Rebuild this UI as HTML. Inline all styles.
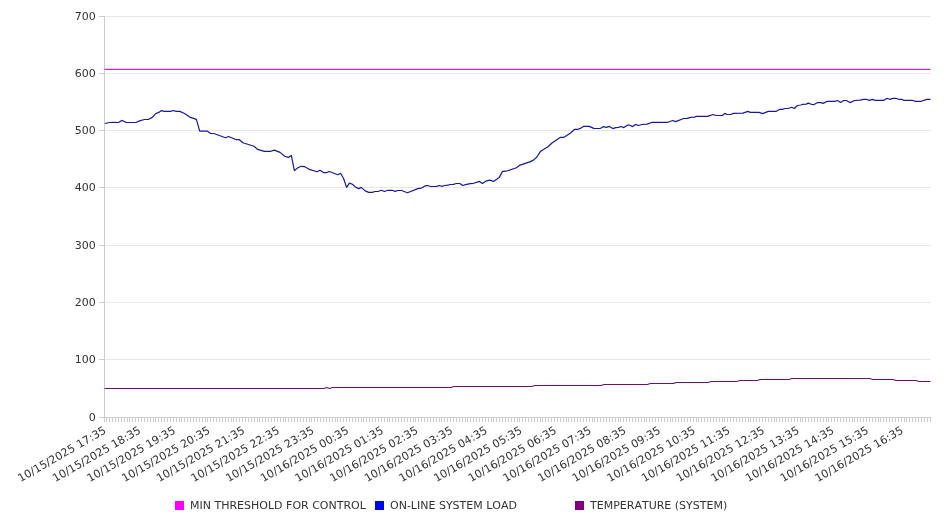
<!DOCTYPE html>
<html lang="en"><head><meta charset="utf-8"><title>System Load Chart</title>
<style>html,body{margin:0;padding:0;background:#fff;overflow:hidden}svg{display:block;will-change:transform}text{font-family:'DejaVu Sans', 'Liberation Sans', sans-serif;fill:#333;font-kerning:none}</style></head><body>
<svg width="946" height="526" viewBox="0 0 946 526">
<path d="M104.0 417.5H931.0M104.0 359.5H931.0M104.0 302.5H931.0M104.0 245.5H931.0M104.0 187.5H931.0M104.0 130.5H931.0M104.0 73.5H931.0M104.0 16.5H931.0" stroke="#e8e8e8" stroke-width="1" fill="none"/>
<path d="M104.5 16.0V418.0M104.0 417.5H931.0M99.0 417.5H104.0M99.0 359.5H104.0M99.0 302.5H104.0M99.0 245.5H104.0M99.0 187.5H104.0M99.0 130.5H104.0M99.0 73.5H104.0M99.0 16.5H104.0M104.5 418.0V422.0M106.5 418.0V422.0M109.5 418.0V422.0M112.5 418.0V422.0M115.5 418.0V422.0M118.5 418.0V422.0M121.5 418.0V422.0M124.5 418.0V422.0M127.5 418.0V422.0M129.5 418.0V422.0M132.5 418.0V422.0M135.5 418.0V422.0M138.5 418.0V422.0M141.5 418.0V422.0M144.5 418.0V422.0M147.5 418.0V422.0M150.5 418.0V422.0M153.5 418.0V422.0M155.5 418.0V422.0M158.5 418.0V422.0M161.5 418.0V422.0M164.5 418.0V422.0M167.5 418.0V422.0M170.5 418.0V422.0M173.5 418.0V422.0M176.5 418.0V422.0M179.5 418.0V422.0M181.5 418.0V422.0M184.5 418.0V422.0M187.5 418.0V422.0M190.5 418.0V422.0M193.5 418.0V422.0M196.5 418.0V422.0M199.5 418.0V422.0M202.5 418.0V422.0M205.5 418.0V422.0M207.5 418.0V422.0M210.5 418.0V422.0M213.5 418.0V422.0M216.5 418.0V422.0M219.5 418.0V422.0M222.5 418.0V422.0M225.5 418.0V422.0M228.5 418.0V422.0M231.5 418.0V422.0M233.5 418.0V422.0M236.5 418.0V422.0M239.5 418.0V422.0M242.5 418.0V422.0M245.5 418.0V422.0M248.5 418.0V422.0M251.5 418.0V422.0M254.5 418.0V422.0M257.5 418.0V422.0M259.5 418.0V422.0M262.5 418.0V422.0M265.5 418.0V422.0M268.5 418.0V422.0M271.5 418.0V422.0M274.5 418.0V422.0M277.5 418.0V422.0M280.5 418.0V422.0M283.5 418.0V422.0M285.5 418.0V422.0M288.5 418.0V422.0M291.5 418.0V422.0M294.5 418.0V422.0M297.5 418.0V422.0M300.5 418.0V422.0M303.5 418.0V422.0M306.5 418.0V422.0M309.5 418.0V422.0M311.5 418.0V422.0M314.5 418.0V422.0M317.5 418.0V422.0M320.5 418.0V422.0M323.5 418.0V422.0M326.5 418.0V422.0M329.5 418.0V422.0M332.5 418.0V422.0M335.5 418.0V422.0M337.5 418.0V422.0M340.5 418.0V422.0M343.5 418.0V422.0M346.5 418.0V422.0M349.5 418.0V422.0M352.5 418.0V422.0M355.5 418.0V422.0M358.5 418.0V422.0M361.5 418.0V422.0M363.5 418.0V422.0M366.5 418.0V422.0M369.5 418.0V422.0M372.5 418.0V422.0M375.5 418.0V422.0M378.5 418.0V422.0M381.5 418.0V422.0M384.5 418.0V422.0M387.5 418.0V422.0M389.5 418.0V422.0M392.5 418.0V422.0M395.5 418.0V422.0M398.5 418.0V422.0M401.5 418.0V422.0M404.5 418.0V422.0M407.5 418.0V422.0M410.5 418.0V422.0M413.5 418.0V422.0M415.5 418.0V422.0M418.5 418.0V422.0M421.5 418.0V422.0M424.5 418.0V422.0M427.5 418.0V422.0M430.5 418.0V422.0M433.5 418.0V422.0M436.5 418.0V422.0M439.5 418.0V422.0M441.5 418.0V422.0M444.5 418.0V422.0M447.5 418.0V422.0M450.5 418.0V422.0M453.5 418.0V422.0M456.5 418.0V422.0M459.5 418.0V422.0M462.5 418.0V422.0M465.5 418.0V422.0M467.5 418.0V422.0M470.5 418.0V422.0M473.5 418.0V422.0M476.5 418.0V422.0M479.5 418.0V422.0M482.5 418.0V422.0M485.5 418.0V422.0M488.5 418.0V422.0M491.5 418.0V422.0M493.5 418.0V422.0M496.5 418.0V422.0M499.5 418.0V422.0M502.5 418.0V422.0M505.5 418.0V422.0M508.5 418.0V422.0M511.5 418.0V422.0M514.5 418.0V422.0M517.5 418.0V422.0M519.5 418.0V422.0M522.5 418.0V422.0M525.5 418.0V422.0M528.5 418.0V422.0M531.5 418.0V422.0M534.5 418.0V422.0M537.5 418.0V422.0M540.5 418.0V422.0M542.5 418.0V422.0M545.5 418.0V422.0M548.5 418.0V422.0M551.5 418.0V422.0M554.5 418.0V422.0M557.5 418.0V422.0M560.5 418.0V422.0M563.5 418.0V422.0M566.5 418.0V422.0M568.5 418.0V422.0M571.5 418.0V422.0M574.5 418.0V422.0M577.5 418.0V422.0M580.5 418.0V422.0M583.5 418.0V422.0M586.5 418.0V422.0M589.5 418.0V422.0M592.5 418.0V422.0M594.5 418.0V422.0M597.5 418.0V422.0M600.5 418.0V422.0M603.5 418.0V422.0M606.5 418.0V422.0M609.5 418.0V422.0M612.5 418.0V422.0M615.5 418.0V422.0M618.5 418.0V422.0M620.5 418.0V422.0M623.5 418.0V422.0M626.5 418.0V422.0M629.5 418.0V422.0M632.5 418.0V422.0M635.5 418.0V422.0M638.5 418.0V422.0M641.5 418.0V422.0M644.5 418.0V422.0M646.5 418.0V422.0M649.5 418.0V422.0M652.5 418.0V422.0M655.5 418.0V422.0M658.5 418.0V422.0M661.5 418.0V422.0M664.5 418.0V422.0M667.5 418.0V422.0M670.5 418.0V422.0M672.5 418.0V422.0M675.5 418.0V422.0M678.5 418.0V422.0M681.5 418.0V422.0M684.5 418.0V422.0M687.5 418.0V422.0M690.5 418.0V422.0M693.5 418.0V422.0M696.5 418.0V422.0M698.5 418.0V422.0M701.5 418.0V422.0M704.5 418.0V422.0M707.5 418.0V422.0M710.5 418.0V422.0M713.5 418.0V422.0M716.5 418.0V422.0M719.5 418.0V422.0M722.5 418.0V422.0M724.5 418.0V422.0M727.5 418.0V422.0M730.5 418.0V422.0M733.5 418.0V422.0M736.5 418.0V422.0M739.5 418.0V422.0M742.5 418.0V422.0M745.5 418.0V422.0M748.5 418.0V422.0M750.5 418.0V422.0M753.5 418.0V422.0M756.5 418.0V422.0M759.5 418.0V422.0M762.5 418.0V422.0M765.5 418.0V422.0M768.5 418.0V422.0M771.5 418.0V422.0M774.5 418.0V422.0M776.5 418.0V422.0M779.5 418.0V422.0M782.5 418.0V422.0M785.5 418.0V422.0M788.5 418.0V422.0M791.5 418.0V422.0M794.5 418.0V422.0M797.5 418.0V422.0M800.5 418.0V422.0M802.5 418.0V422.0M805.5 418.0V422.0M808.5 418.0V422.0M811.5 418.0V422.0M814.5 418.0V422.0M817.5 418.0V422.0M820.5 418.0V422.0M823.5 418.0V422.0M826.5 418.0V422.0M828.5 418.0V422.0M831.5 418.0V422.0M834.5 418.0V422.0M837.5 418.0V422.0M840.5 418.0V422.0M843.5 418.0V422.0M846.5 418.0V422.0M849.5 418.0V422.0M852.5 418.0V422.0M854.5 418.0V422.0M857.5 418.0V422.0M860.5 418.0V422.0M863.5 418.0V422.0M866.5 418.0V422.0M869.5 418.0V422.0M872.5 418.0V422.0M875.5 418.0V422.0M878.5 418.0V422.0M880.5 418.0V422.0M883.5 418.0V422.0M886.5 418.0V422.0M889.5 418.0V422.0M892.5 418.0V422.0M895.5 418.0V422.0M898.5 418.0V422.0M901.5 418.0V422.0M904.5 418.0V422.0M906.5 418.0V422.0M909.5 418.0V422.0M912.5 418.0V422.0M915.5 418.0V422.0M918.5 418.0V422.0M921.5 418.0V422.0M924.5 418.0V422.0M927.5 418.0V422.0M930.5 418.0V422.0" stroke="#cccccc" stroke-width="1" fill="none"/>
<g font-size="11" text-anchor="end">
<text x="95.7" y="421.0">0</text>
<text x="95.7" y="363.0">100</text>
<text x="95.7" y="306.0">200</text>
<text x="95.7" y="249.0">300</text>
<text x="95.7" y="191.0">400</text>
<text x="95.7" y="134.0">500</text>
<text x="95.7" y="77.0">600</text>
<text x="95.7" y="20.0">700</text>
</g>
<g font-size="11" text-anchor="end">
<text x="106.9" y="432.5" textLength="99.7" transform="rotate(-30 106.9 432.5)">10/15/2025 17:35</text>
<text x="141.6" y="432.5" textLength="99.7" transform="rotate(-30 141.6 432.5)">10/15/2025 18:35</text>
<text x="176.2" y="432.5" textLength="99.7" transform="rotate(-30 176.2 432.5)">10/15/2025 19:35</text>
<text x="210.9" y="432.5" textLength="99.7" transform="rotate(-30 210.9 432.5)">10/15/2025 20:35</text>
<text x="245.5" y="432.5" textLength="99.7" transform="rotate(-30 245.5 432.5)">10/15/2025 21:35</text>
<text x="280.2" y="432.5" textLength="99.7" transform="rotate(-30 280.2 432.5)">10/15/2025 22:35</text>
<text x="314.8" y="432.5" textLength="99.7" transform="rotate(-30 314.8 432.5)">10/15/2025 23:35</text>
<text x="349.5" y="432.5" textLength="99.7" transform="rotate(-30 349.5 432.5)">10/16/2025 00:35</text>
<text x="384.2" y="432.5" textLength="99.7" transform="rotate(-30 384.2 432.5)">10/16/2025 01:35</text>
<text x="418.8" y="432.5" textLength="99.7" transform="rotate(-30 418.8 432.5)">10/16/2025 02:35</text>
<text x="453.5" y="432.5" textLength="99.7" transform="rotate(-30 453.5 432.5)">10/16/2025 03:35</text>
<text x="488.1" y="432.5" textLength="99.7" transform="rotate(-30 488.1 432.5)">10/16/2025 04:35</text>
<text x="522.8" y="432.5" textLength="99.7" transform="rotate(-30 522.8 432.5)">10/16/2025 05:35</text>
<text x="557.4" y="432.5" textLength="99.7" transform="rotate(-30 557.4 432.5)">10/16/2025 06:35</text>
<text x="592.1" y="432.5" textLength="99.7" transform="rotate(-30 592.1 432.5)">10/16/2025 07:35</text>
<text x="626.8" y="432.5" textLength="99.7" transform="rotate(-30 626.8 432.5)">10/16/2025 08:35</text>
<text x="661.4" y="432.5" textLength="99.7" transform="rotate(-30 661.4 432.5)">10/16/2025 09:35</text>
<text x="696.1" y="432.5" textLength="99.7" transform="rotate(-30 696.1 432.5)">10/16/2025 10:35</text>
<text x="730.7" y="432.5" textLength="99.7" transform="rotate(-30 730.7 432.5)">10/16/2025 11:35</text>
<text x="765.4" y="432.5" textLength="99.7" transform="rotate(-30 765.4 432.5)">10/16/2025 12:35</text>
<text x="800.0" y="432.5" textLength="99.7" transform="rotate(-30 800.0 432.5)">10/16/2025 13:35</text>
<text x="834.7" y="432.5" textLength="99.7" transform="rotate(-30 834.7 432.5)">10/16/2025 14:35</text>
<text x="869.4" y="432.5" textLength="99.7" transform="rotate(-30 869.4 432.5)">10/16/2025 15:35</text>
<text x="904.0" y="432.5" textLength="99.7" transform="rotate(-30 904.0 432.5)">10/16/2025 16:35</text>
</g>
<path d="M104.5 69.4H930.5" stroke="#c030c0" stroke-width="1.25" fill="none"/>
<polyline points="104.8,123.5 109.5,122.5 113.7,122.3 118.5,122.5 121.7,120.4 126.4,122.5 135.9,122.5 139.6,120.9 144.4,119.5 148.6,119.3 152.3,117.4 155.5,113.8 158.7,112.4 161.5,110.6 164.5,111.4 170.3,111.4 173.5,110.5 176.1,111.4 179.8,111.4 184.6,113.5 190.4,117.4 196.4,119.4 199.7,131.1 207.4,131.2 210.3,133.3 213.8,133.5 225.5,137.7 228.4,136.5 236.5,139.7 239.4,139.7 242.9,142.8 254.0,146.3 257.4,149.3 264.4,151.3 270.8,151.3 274.3,150.1 280.1,152.4 284.8,156.3 288.3,157.4 291.3,155.4 294.4,170.6 297.8,167.7 301.3,166.3 304.8,166.7 309.4,169.4 317.0,171.7 319.9,170.3 324.0,172.7 326.3,172.7 329.2,171.5 337.9,174.7 340.6,173.3 343.7,178.7 346.6,187.4 349.5,183.1 352.4,184.3 355.9,187.4 358.8,188.6 361.2,187.4 365.2,190.9 368.7,192.4 372.2,192.4 375.1,191.5 378.6,191.3 381.5,190.3 384.4,191.5 387.9,190.3 392.0,190.3 395.2,191.4 397.6,190.5 401.6,190.5 407.4,192.7 417.9,188.6 421.4,188.1 425.5,185.7 427.8,185.5 430.7,186.5 436.5,186.3 439.4,185.5 441.7,186.3 444.7,185.5 448.1,185.2 449.9,184.5 453.4,184.3 456.3,183.5 459.8,183.5 462.7,185.5 465.6,184.7 470.2,183.7 473.7,183.3 479.5,181.4 482.4,183.5 486.5,180.8 490.0,180.2 493.5,181.4 499.1,177.6 502.6,171.4 506.0,171.2 516.5,167.7 520.0,165.1 529.9,161.9 533.4,160.1 536.9,157.0 540.3,151.6 547.9,146.7 552.0,143.0 560.1,137.4 563.6,137.4 570.6,133.0 574.7,129.3 578.1,129.3 581.0,128.1 583.4,126.4 589.2,126.4 593.8,128.4 600.2,128.5 603.5,126.6 606.4,127.4 609.3,126.4 612.8,128.6 615.7,127.6 618.6,127.4 620.9,126.5 623.8,127.6 627.3,125.2 629.7,125.2 632.6,126.6 635.5,124.4 638.4,125.5 641.9,124.5 647.1,124.1 652.3,122.3 668.0,122.3 672.7,120.5 675.6,121.6 683.7,118.5 687.2,118.3 690.7,117.3 694.2,117.1 696.5,116.4 707.6,116.4 713.1,114.5 716.0,115.5 722.4,115.5 724.8,113.4 727.1,114.5 730.6,114.5 733.5,113.4 742.8,113.1 748.0,111.4 750.3,112.4 759.1,112.4 762.6,113.6 768.4,111.4 775.9,111.4 779.4,109.4 782.3,109.3 785.2,108.5 788.7,108.3 791.6,107.3 794.3,108.5 797.4,105.5 800.9,105.0 802.7,104.3 806.2,104.1 808.3,103.1 811.4,104.3 814.1,104.6 817.6,102.6 821.0,102.6 823.1,103.4 827.2,101.3 834.7,101.3 837.5,100.5 840.5,102.4 843.7,100.5 846.4,100.5 849.9,102.6 854.7,100.5 860.2,100.2 863.6,99.3 866.3,99.3 869.4,100.4 872.5,99.4 875.3,100.4 883.5,100.4 886.7,98.4 889.7,99.3 893.1,98.3 895.9,98.3 898.6,99.3 901.4,99.3 904.1,100.4 912.4,100.4 915.1,101.3 921.3,101.3 926.8,99.4 930.5,99.3" stroke="#1818a0" stroke-width="1.2" stroke-linejoin="round" fill="none"/>
<polyline points="104.5,388.4 323.8,388.4 326.7,387.4 329.6,388.4 332.5,387.4 451.0,387.4 453.8,386.4 531.8,386.4 534.7,385.4 601.2,385.4 604.1,384.4 647.4,384.4 650.3,383.4 673.4,383.4 676.3,382.4 708.1,382.4 711.0,381.4 736.9,381.4 739.8,380.4 757.2,380.4 760.1,379.4 788.9,379.4 791.8,378.4 869.8,378.4 872.7,379.4 892.9,379.4 895.8,380.4 916.1,380.4 918.9,381.4 930.5,381.4" stroke="#6c126c" stroke-width="1.05" stroke-linejoin="round" fill="none"/>
<g font-size="11">
<rect x="175" y="501" width="9" height="9" fill="#ff00ff"/>
<text x="190.0" y="508.9">MIN THRESHOLD FOR CONTROL</text>
<rect x="375" y="501" width="9" height="9" fill="#0000ff"/>
<text x="390.0" y="508.9">ON-LINE SYSTEM LOAD</text>
<rect x="575" y="501" width="9" height="9" fill="#800080"/>
<text x="590.0" y="508.9">TEMPERATURE (SYSTEM)</text>
</g>
</svg></body></html>
